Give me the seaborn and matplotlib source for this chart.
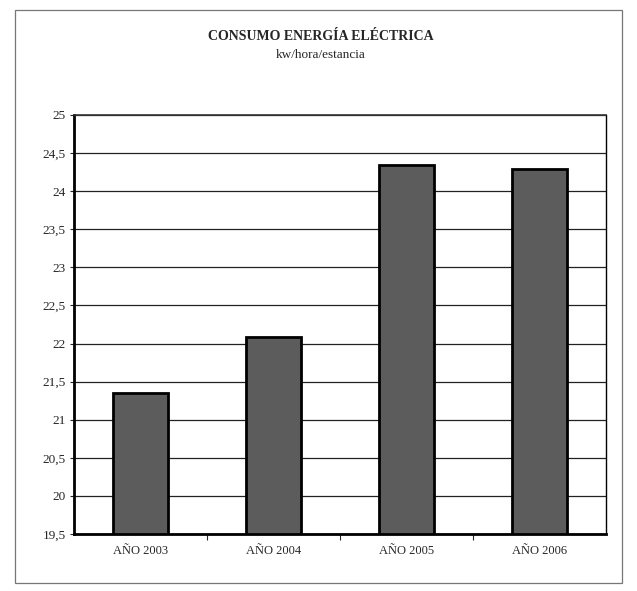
import numpy as np
import pandas as pd
import matplotlib.pyplot as plt
import seaborn as sns
from matplotlib.patches import Rectangle

# data
years = ["AÑO 2003", "AÑO 2004", "AÑO 2005", "AÑO 2006"]
consumo = [21.35, 22.08, 24.35, 24.29]
yticks = [19.5, 20, 20.5, 21, 21.5, 22, 22.5, 23, 23.5, 24, 24.5, 25]

sns.set_style("white")
plt.rcParams["font.family"] = ["Liberation Serif", "DejaVu Serif"]

df = pd.DataFrame({"anio": years, "kwh": consumo})

fig = plt.figure(figsize=(6.37, 5.91), dpi=100)
ax = fig.add_axes([74 / 637, 1 - 534 / 591, (606 - 74) / 637, (534 - 115) / 591])

# gridlines behind bars
ax.set_axisbelow(True)
ax.yaxis.grid(True, color="#222222", linewidth=0.9)

sns.barplot(data=df, x="anio", y="kwh", color="#5c5c5c", width=0.41,
            edgecolor="black", linewidth=2.0, saturation=1, ax=ax)

ax.set_ylim(19.5, 25)
ax.set_yticks(yticks)
ax.set_yticklabels([f"{t:g}".replace(".", ",") for t in yticks], fontsize=9.5)
ax.set_xlabel("")
ax.set_ylabel("")
ax.tick_params(axis="x", length=0, labelsize=9, pad=8)
ax.tick_params(axis="y", length=3, width=0.8, direction="out", left=True, pad=3)

# tick marks between categories on the x axis
ax.set_xticks([0.5, 1.5, 2.5], minor=True)
ax.tick_params(axis="x", which="minor", length=4, width=0.8, direction="out", bottom=True)

for side in ["left", "bottom"]:
    ax.spines[side].set_linewidth(2.0)
    ax.spines[side].set_color("black")
ax.spines["right"].set_linewidth(1.0)
ax.spines["right"].set_color("black")
ax.spines["top"].set_linewidth(1.2)
ax.spines["top"].set_linestyle((0, (2, 1)))
ax.spines["top"].set_color("#333333")

fig.text(0.504, 1 - 37 / 591, "CONSUMO ENERGÍA ELÉCTRICA", ha="center", va="center",
         fontsize=10, fontweight="bold")
fig.text(0.504, 1 - 55 / 591, "kw/hora/estancia", ha="center", va="center", fontsize=9.5)

# outer chart frame
fig.patches.append(Rectangle((15 / 637, 1 - 583 / 591), (622 - 15) / 637, (583 - 10) / 591,
                             transform=fig.transFigure, fill=False,
                             edgecolor="#777777", linewidth=0.9))

fig.savefig("out.png", dpi=100, facecolor="white")
